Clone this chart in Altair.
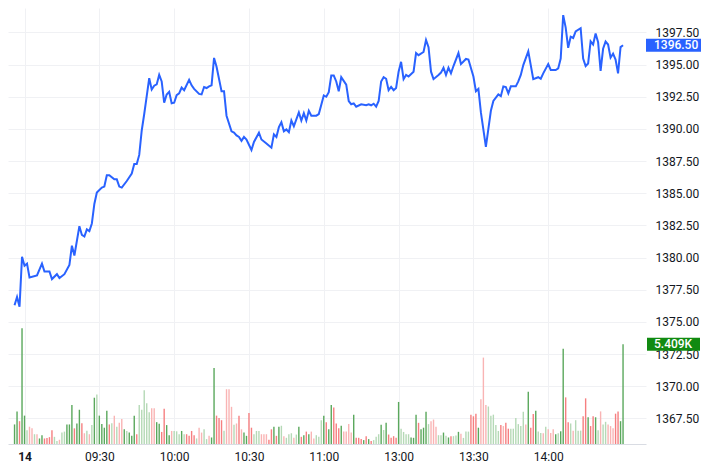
import altair as alt
import pandas as pd

# ---------------- data ----------------
# x axis: minute-bar index of each time label
x_tick_pos = [0, 30, 60, 90, 120, 150, 180, 210]
x_tick_labels = ["14", "09:30", "10:00", "10:30", "11:00", "13:00", "13:30", "14:00"]
price_ticks = [1367.5, 1370.0, 1372.5, 1375.0, 1377.5, 1380.0, 1382.5,
               1385.0, 1387.5, 1390.0, 1392.5, 1395.0, 1397.5]

# volume bars (one per minute, first bar at index vol_start)
vol_start = -4
volumes = [
    1062, 1770, 1239, 6284, 1540, 743, 938, 850, 531, 531, 301, 478, 301, 319, 372, 743,
    389, 159, 230, 620, 673, 1062, 1062, 2124, 850, 1115, 1859, 1133, 584, 726, 531, 1027,
    2513, 2690, 1540, 1080, 885, 1805, 1062, 1133, 1540, 938, 1150, 1363, 797, 708, 620, 443,
    1540, 531, 2124, 1859, 2920, 2213, 1717, 1947, 1947, 1186, 1097, 655, 1912, 1027, 478, 708,
    708, 690, 531, 708, 531, 531, 443, 708, 478, 301, 885, 620, 797, 266, 443, 354,
    4124, 1540, 1416, 1292, 726, 2974, 2974, 2018, 1044, 1115, 1540, 797, 620, 443, 1682, 885,
    531, 708, 708, 531, 531, 531, 230, 797, 938, 443, 938, 991, 425, 336, 531, 584,
    336, 513, 938, 389, 478, 673, 531, 673, 301, 478, 389, 1292, 1540, 1186, 797, 2124,
    1982, 1115, 850, 991, 673, 673, 1080, 620, 1593, 336, 336, 266, 212, 425, 266, 159,
    212, 389, 531, 1044, 761, 1150, 513, 336, 425, 336, 2283, 832, 655, 531, 531, 354,
    336, 1593, 1150, 797, 885, 1752, 1080, 1239, 1328, 938, 478, 478, 620, 443, 354, 425,
    425, 460, 660, 550, 330, 673, 673, 1593, 1505, 1646, 885, 2425, 4691, 2124, 2036, 1540,
    1593, 1027, 708, 1027, 974, 1150, 832, 832, 832, 1416, 1080, 974, 1752, 1062, 2832, 885,
    1628, 1805, 673, 602, 584, 938, 797, 602, 797, 531, 584, 690, 5168, 2531, 1186, 1115,
    726, 1292, 726, 726, 1505, 2478, 1451, 974, 1505, 1451, 743, 1770, 1062, 1204, 1062, 974,
    850, 1646, 1770, 1239, 5409,
]
# G = up (strong), g = up (pale), R = down (strong), r = down (pale)
vol_kind_rows = [
    "GGRGGgrrgrGGRRRR",  # -4 .. 11
    "ggrggGGGRGGRrgrg",  # 12 .. 27
    "GgGGGGRgrgrrGgGG",  # 28 .. 43
    "GRgggggrrGGRRGGr",  # 44 .. 59
    "gggGgRRRRgrrggrG",  # 60 .. 75
    "GRRRgrrrgrRrGGRR",  # 76 .. 91
    "gggrrrRRGRGgrggg",  # 92 .. 107
    "rgGRGRGrrgggGRGG",  # 108 .. 123
    "RRRGrrrrGRRRGRGR",  # 124 .. 139
    "gggGgGRRRRGggggG",  # 140 .. 155
    "GGRGGGgrrrggGgGR",  # 156 .. 171
    "ggGrgggRRRGrrrgg",  # 172 .. 187
    "gggRrRRggggggrGR",  # 188 .. 203
    "RGggrgrrrGgGGRRg",  # 204 .. 219
    "rgggRRGRRGgrggrr",  # 220 .. 235
    "rRRGG",             # 236 .. 240
]
vol_kind = list("".join(vol_kind_rows))

# price line (bar index, price)
line_idx = [
    -4, -3, -2, -1, 0, 1, 2, 5, 7, 8, 10, 11, 13, 14, 16, 18, 19, 20, 22, 23, 24, 25, 26, 27,
    28, 29, 31, 32, 33, 34, 36, 37, 38, 39, 41, 43, 44, 45, 46, 47, 48, 49, 50, 51, 52, 53,
    54, 55, 56, 57, 58, 59, 60, 61, 62, 63, 64, 66, 67, 68, 70, 71, 72, 73, 74, 75, 76, 77,
    79, 80, 81, 83, 84, 85, 86, 87, 88, 89, 91, 92, 94, 95, 97, 99, 100, 101, 102, 103, 104,
    105, 106, 107, 108, 110, 111, 112, 113, 114, 115, 117, 118, 120, 121, 122, 123, 124, 125,
    126, 127, 129, 130, 131, 132, 133, 135, 137, 138, 139, 140, 141, 142, 143, 144, 145, 146,
    147, 148, 149, 150, 151, 152, 153, 154, 156, 157, 158, 160, 161, 162, 163, 164, 166, 167,
    168, 169, 170, 171, 172, 174, 175, 177, 178, 180, 181, 182, 183, 185, 187, 188, 190, 191,
    192, 193, 194, 195, 197, 198, 199, 200, 202, 204, 206, 207, 208, 210, 211, 213, 214, 215,
    216, 217, 218, 219, 220, 221, 223, 224, 225, 226, 227, 228, 229, 230, 231, 232, 233, 234,
    235, 236, 237, 238, 239, 240,
]
line_price = [
    1376.30, 1376.94, 1376.18, 1380.06, 1379.37, 1379.53, 1378.46, 1378.61, 1379.53, 1378.92,
    1378.92, 1378.33, 1378.71, 1378.41, 1378.71, 1379.43, 1380.92, 1380.16, 1382.44, 1381.76,
    1381.64, 1382.19, 1382.06, 1382.65, 1384.17, 1385.06, 1385.44, 1385.52, 1386.40, 1386.40,
    1386.08, 1386.08, 1385.52, 1385.44, 1385.95, 1386.53, 1387.27, 1387.27, 1387.98, 1389.88,
    1391.16, 1392.55, 1393.94, 1393.06, 1393.36, 1393.46, 1394.20, 1393.69, 1392.04, 1392.68,
    1392.88, 1391.99, 1392.04, 1392.63, 1392.76, 1393.21, 1393.01, 1393.82, 1393.39, 1393.11,
    1392.72, 1392.68, 1393.26, 1393.18, 1393.31, 1393.39, 1395.52, 1394.83, 1392.93, 1392.93,
    1391.03, 1389.81, 1389.71, 1389.50, 1389.38, 1389.07, 1389.38, 1389.18, 1388.36, 1388.99,
    1389.71, 1389.18, 1388.87, 1388.54, 1389.58, 1389.38, 1390.14, 1390.52, 1389.81, 1389.96,
    1389.75, 1390.65, 1390.21, 1391.28, 1390.65, 1391.23, 1390.65, 1391.41, 1391.03, 1391.03,
    1391.16, 1392.60, 1392.50, 1392.85, 1394.15, 1394.15, 1393.69, 1392.93, 1394.02, 1393.44,
    1392.17, 1391.92, 1391.99, 1391.73, 1391.92, 1391.84, 1391.92, 1391.84, 1391.96, 1391.73,
    1392.17, 1393.69, 1394.02, 1393.90, 1393.01, 1393.26, 1393.01, 1393.18, 1394.45, 1395.22,
    1393.87, 1394.20, 1394.07, 1394.45, 1395.90, 1395.73, 1395.98, 1396.91, 1396.36, 1394.45,
    1393.87, 1394.20, 1394.38, 1394.76, 1394.20, 1394.76, 1394.32, 1394.89, 1395.90, 1395.04,
    1395.44, 1395.39, 1394.07, 1392.93, 1393.11, 1391.28, 1388.61, 1391.41, 1392.17, 1392.68,
    1392.55, 1393.31, 1393.26, 1392.76, 1393.31, 1393.31, 1393.69, 1394.20, 1394.96, 1396.03,
    1393.87, 1394.02, 1393.90, 1394.32, 1395.04, 1394.58, 1394.58, 1394.70, 1395.47, 1398.85,
    1397.88, 1396.30, 1397.17, 1397.07, 1397.58, 1397.83, 1395.47, 1394.89, 1395.09, 1396.81,
    1396.56, 1397.42, 1396.74, 1394.51, 1396.23, 1396.79, 1396.56, 1395.54, 1395.85, 1395.39,
    1394.32, 1396.36, 1396.50,
]

last_price = 1396.50
last_volume = 5409

# ---------------- layout / style ----------------
W, H = 638, 436
X_DOMAIN = [-4.62, 247.2]
P_DOMAIN = [1365.51, 1399.40]
V_DOMAIN = [0, 23670]
FONT = "Roboto"
TXT = "#131722"
GRID = "#f0f1f4"

n = min(len(volumes), len(vol_kind))
vol_df = pd.DataFrame({
    "i": list(range(vol_start, vol_start + n)),
    "v": volumes[:n],
    "k": vol_kind[:n],
})
m = min(len(line_idx), len(line_price))
line_df = pd.DataFrame({"i": line_idx[:m], "p": line_price[:m]})
last_p_df = pd.DataFrame({"p": [last_price], "t": [f"{last_price:.2f}"]})
last_v_df = pd.DataFrame({"v": [last_volume], "t": [f"{last_volume / 1000:.3f}K"]})

pos_js = "[" + ",".join(str(v) for v in x_tick_pos) + "]"
lab_js = "[" + ",".join("'" + s + "'" for s in x_tick_labels) + "]"

x_enc = alt.X(
    "i:Q",
    scale=alt.Scale(domain=X_DOMAIN, nice=False, zero=False),
    axis=alt.Axis(
        values=x_tick_pos,
        labelExpr=f"{lab_js}[indexof({pos_js}, datum.value)]",
        title=None, grid=True, gridColor=GRID, gridWidth=1,
        ticks=False, domainColor="#d9dce3", labelColor=TXT,
        labelFont=FONT, labelFontSize=12, labelPadding=7, labelFlush=False,
        labelFontWeight={"condition": {"test": f"datum.value == {x_tick_pos[0]}", "value": "bold"},
                         "value": "normal"},
    ),
)

v_scale = alt.Scale(domain=V_DOMAIN, nice=False, zero=True)
p_scale = alt.Scale(domain=P_DOMAIN, nice=False, zero=False)

vol_bars = alt.Chart(vol_df).mark_bar(width=1.4).encode(
    x=x_enc,
    y=alt.Y("v:Q", scale=v_scale, axis=None),
    color=alt.Color("k:N", legend=None,
                    scale=alt.Scale(domain=["G", "g", "R", "r"],
                                    range=["#5aa85c", "#b5d9b6", "#f67f80", "#f9b4b4"])),
)
vol_box = alt.Chart(last_v_df).mark_rect(height=13, color="#118a11").encode(
    x=alt.value(W + 1), x2=alt.value(W + 54),
    y=alt.Y("v:Q", scale=v_scale, axis=None),
)
vol_text = alt.Chart(last_v_df).mark_text(
    align="left", baseline="middle", color="white", font=FONT, fontSize=12, fontWeight=500
).encode(x=alt.value(W + 8), y=alt.Y("v:Q", scale=v_scale, axis=None), text="t:N")

price_axis = alt.Axis(
    orient="right", values=price_ticks, format=".2f", title=None,
    grid=True, gridColor=GRID, ticks=False, domain=False,
    labelColor=TXT, labelFont=FONT, labelFontSize=12, labelPadding=9,
    labelFlush=False, labelOverlap=False)

price_line = alt.Chart(line_df).mark_line(color="#2962ff", strokeWidth=2).encode(
    x=x_enc,
    y=alt.Y("p:Q", scale=p_scale, axis=price_axis),
)
price_box = alt.Chart(last_p_df).mark_rect(height=13, color="#2962ff").encode(
    x=alt.value(W), x2=alt.value(W + 55),
    y=alt.Y("p:Q", scale=p_scale, axis=price_axis),
)
price_text = alt.Chart(last_p_df).mark_text(
    align="left", baseline="middle", color="white", font=FONT, fontSize=12, fontWeight=500
).encode(x=alt.value(W + 8), y=alt.Y("p:Q", scale=p_scale, axis=price_axis), text="t:N")

chart = alt.layer(
    alt.layer(vol_bars, vol_box, vol_text),
    alt.layer(price_line, price_box, price_text),
).resolve_scale(y="independent").properties(
    width=W, height=H, padding=0
).configure_view(stroke=None)

chart.save("out.html", embed_options={"renderer": "svg", "actions": False})
